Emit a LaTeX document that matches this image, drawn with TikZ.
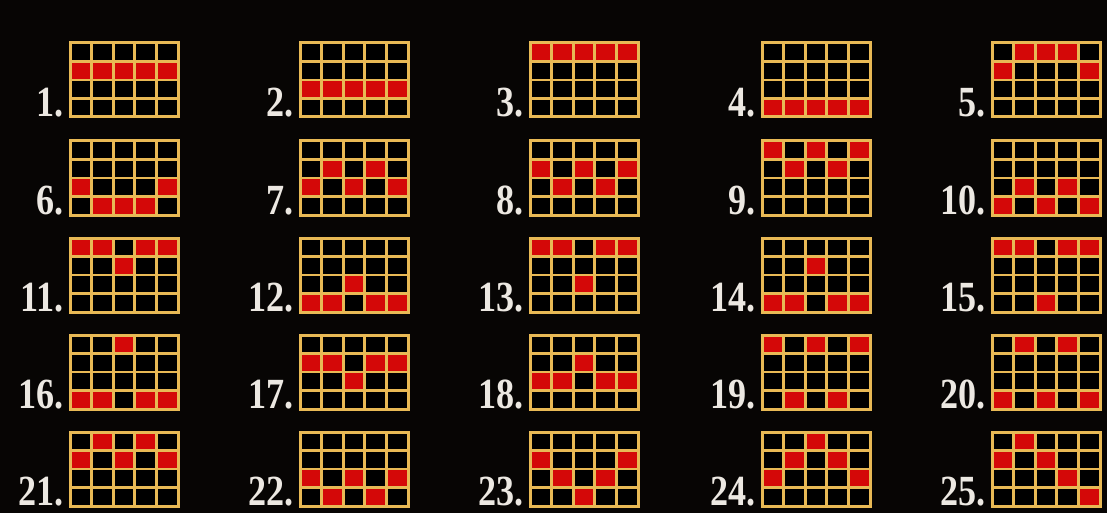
\documentclass[tikz,border=0pt]{standalone}
\usepackage{fontspec}
\newfontfamily\numfont{Liberation Serif}
\definecolor{gold}{HTML}{E8B955}
\definecolor{cellred}{HTML}{D40808}
\definecolor{bg}{HTML}{070504}
\definecolor{numcol}{HTML}{ECE8E2}
\tikzset{
  gridline/.style={gold, line width=2.7pt},
  gridnode/.style={draw=gold, line width=3pt, minimum width=108pt, minimum height=74pt, inner sep=0pt},
  numlabel/.style={text=numcol, font=\numfont\bfseries\fontsize{43}{43}\selectfont, inner sep=0pt, xscale=0.84, transform shape},
  redcell/.style={fill=cellred}
}
\begin{document}
\begin{tikzpicture}[x=1pt,y=-1pt]
\fill[bg] (0,0) rectangle (1107,513);
\useasboundingbox (0,0) rectangle (1107,513);
\foreach \n/\pa/\pb/\pc/\pd/\pe in {
 1/1/1/1/1/1, 2/2/2/2/2/2, 3/0/0/0/0/0, 4/3/3/3/3/3, 5/1/0/0/0/1,
 6/2/3/3/3/2, 7/2/1/2/1/2, 8/1/2/1/2/1, 9/0/1/0/1/0, 10/3/2/3/2/3,
 11/0/0/1/0/0, 12/3/3/2/3/3, 13/0/0/2/0/0, 14/3/3/1/3/3, 15/0/0/3/0/0,
 16/3/3/0/3/3, 17/1/1/2/1/1, 18/2/2/1/2/2, 19/0/3/0/3/0, 20/3/0/3/0/3,
 21/1/0/1/0/1, 22/2/3/2/3/2, 23/1/2/3/2/1, 24/2/1/0/1/2, 25/1/0/1/2/3}{
  \pgfmathtruncatemacro\col{mod(\n-1,5)}
  \pgfmathtruncatemacro\row{div(\n-1,5)}
  \pgfmathsetmacro\gx{{70,300,530,762,992}[\col]}
  \pgfmathsetmacro\gy{{43,141,238,335,432}[\row]}
  \fill[black] (\gx,\gy) rectangle ++(108,74);
  \foreach \c/\r in {0/\pa,1/\pb,2/\pc,3/\pd,4/\pe}{
    \fill[redcell] (\gx+\c*21.6+1.2,\gy+\r*18.5+1.2) rectangle ++(19.2,16.1);
  }
  \foreach \k in {1,...,4} \draw[gridline] (\gx+\k*21.6,\gy) -- ++(0,74);
  \foreach \k in {1,...,3} \draw[gridline] (\gx,\gy+\k*18.5) -- ++(108,0);
  \node[gridnode] (g\n) at (\gx+54,\gy+37) {};
  \node[numlabel, anchor=base east] (l\n) at ([xshift=-5pt,yshift=2pt]g\n.south west) {\n.};
}
\end{tikzpicture}
\end{document}
